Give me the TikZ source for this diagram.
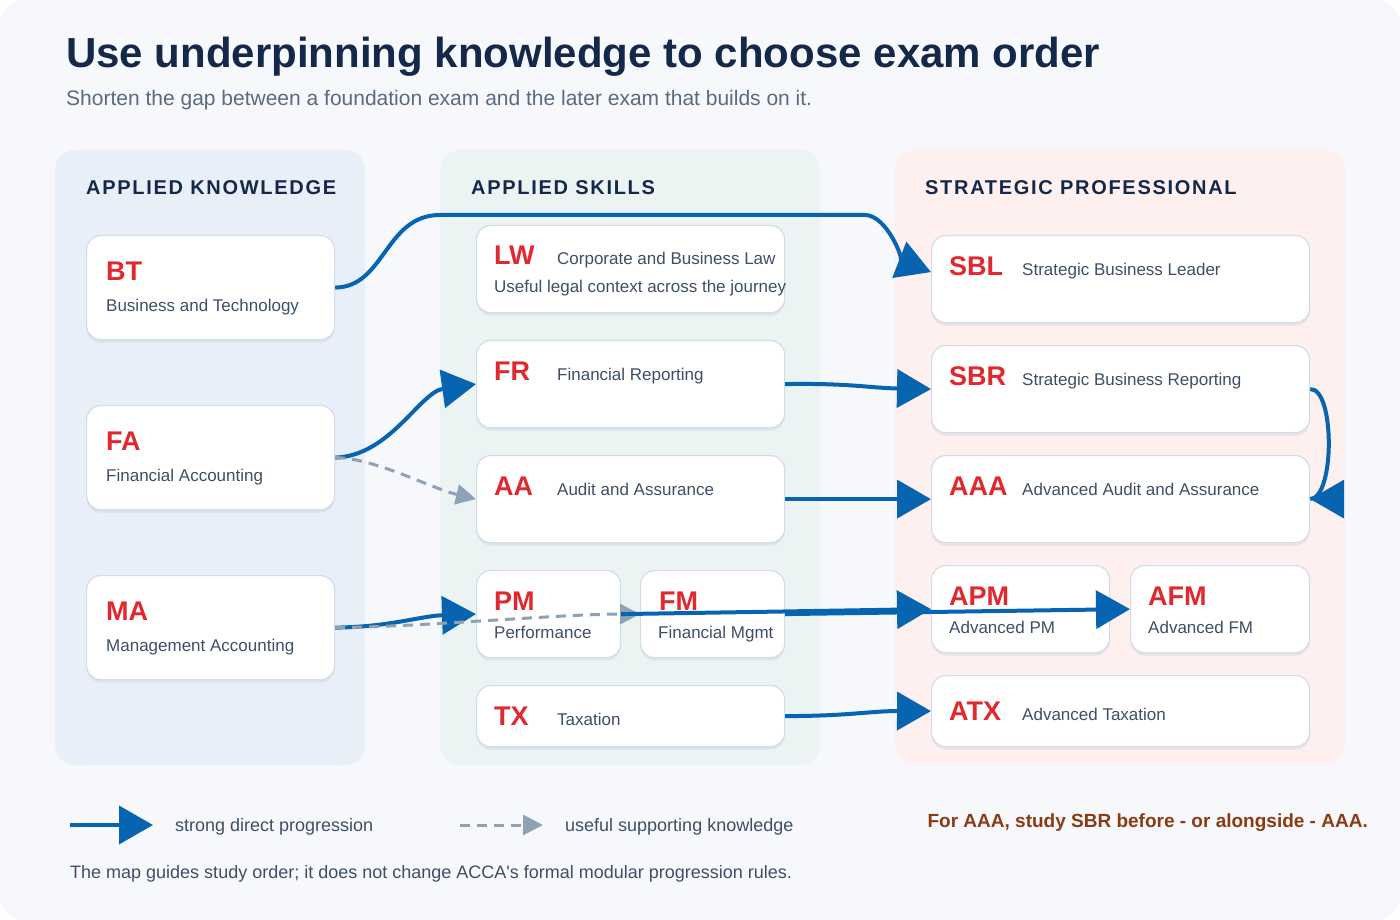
\documentclass[tikz,border=0pt]{standalone}
\usepackage{fontspec}
\setmainfont{Liberation Sans}
\newfontfamily\hdrfont{Liberation Sans}[LetterSpace=8.5]
\usetikzlibrary{arrows.meta,shadows,calc}
\definecolor{canvasbg}{HTML}{F6F8FC}
\definecolor{akfill}{HTML}{E9EFF8}
\definecolor{asfill}{HTML}{EBF4F3}
\definecolor{spfill}{HTML}{FDF0EF}
\definecolor{cardline}{HTML}{D3DDE9}
\definecolor{shadowc}{HTML}{5A7090}
\definecolor{flowblue}{HTML}{0664B1}
\definecolor{supgray}{HTML}{8FA1B5}
\definecolor{codered}{HTML}{E0282E}
\definecolor{titlec}{HTML}{14284A}
\definecolor{subc}{HTML}{5A6B80}
\definecolor{desctext}{HTML}{3E4F66}
\definecolor{notebrown}{HTML}{8B3A13}
\begin{document}
\begin{tikzpicture}[x=1pt,y=-1pt,
  card/.style={draw=cardline, line width=1.2pt, fill=white, rounded corners=14pt, inner sep=0pt, anchor=north west,
    drop shadow={shadow xshift=0pt, shadow yshift=-3pt, opacity=0.10, fill=shadowc}},
  code/.style={anchor=base west, inner sep=0pt, text=codered, font=\fontsize{27}{30}\selectfont\bfseries},
  desc/.style={anchor=base west, inner sep=0pt, text=desctext, font=\fontsize{17}{20}\selectfont},
  legtext/.style={anchor=base west, inner sep=0pt, text=desctext, font=\fontsize{18}{21}\selectfont},
  hdr/.style={anchor=base west, inner sep=0pt, text=titlec, font=\hdrfont\fontsize{20}{24}\selectfont\bfseries},
  flowline/.style={draw=flowblue, line width=4pt},
  strong/.style={flowline, -{Triangle[length=34pt,width=38pt]}},
  support/.style={draw=supgray, line width=3pt, dash pattern=on 10pt off 7pt, -{Triangle[length=20pt,width=20pt]}},
  panel/.style={rounded corners=20pt, draw=none}
]
\useasboundingbox (0,0) rectangle (1400,920);
\fill[white] (0,0) rectangle (1400,920);
\fill[canvasbg, rounded corners=24pt] (0,0) rectangle (1400,920);

% title
\node[anchor=base west, inner sep=0pt, text=titlec, font=\fontsize{42}{47}\selectfont\bfseries] (title) at (66,68) {Use underpinning knowledge to choose exam order};
\node[anchor=base west, inner sep=0pt, text=subc, font=\fontsize{21}{25}\selectfont] (subtitle) at (66,106) {Shorten the gap between a foundation exam and the later exam that builds on it.};

% panels
\fill[akfill, panel] (55,150) rectangle (365,765);
\fill[asfill, panel] (440,150) rectangle (820,765);
\fill[spfill, panel] (895,150) rectangle (1345,765);
\node[hdr] (hAK) at (86,195) {APPLIED KNOWLEDGE};
\node[hdr] (hAS) at (471,195) {APPLIED SKILLS};
\node[hdr] (hSP) at (925,195) {STRATEGIC PROFESSIONAL};

% cards
\node[card, minimum width=248pt, minimum height=104pt] (BT) at (86,235) {};
\node[card, minimum width=248pt, minimum height=104pt] (FA) at (86,405) {};
\node[card, minimum width=248pt, minimum height=104pt] (MA) at (86,575) {};
\node[card, minimum width=308pt, minimum height=87pt] (LW) at (476,225) {};
\node[card, minimum width=308pt, minimum height=87pt] (FR) at (476,340) {};
\node[card, minimum width=308pt, minimum height=87pt] (AA) at (476,455) {};
\node[card, minimum width=144pt, minimum height=87pt] (PM) at (476,570) {};
\node[card, minimum width=144pt, minimum height=87pt] (FM) at (640,570) {};
\node[card, minimum width=308pt, minimum height=61pt] (TX) at (476,685) {};
\node[card, minimum width=378pt, minimum height=87pt] (SBL) at (931,235) {};
\node[card, minimum width=378pt, minimum height=87pt] (SBR) at (931,345) {};
\node[card, minimum width=378pt, minimum height=87pt] (AAA) at (931,455) {};
\node[card, minimum width=178pt, minimum height=87pt] (APM) at (931,565) {};
\node[card, minimum width=179pt, minimum height=87pt] (AFM) at (1130,565) {};
\node[card, minimum width=378pt, minimum height=71pt] (ATX) at (931,675) {};

% connectors
\draw[strong] (BT.east) .. controls (385,287) and (385,215) .. (440,215) -- (865,215) .. controls (887,215) and (905,262) .. ($(SBL.west)+(0,-7)$);
\draw[strong] (FA.east) .. controls (390,456) and (420,392) .. (FR.west);
\draw[support] (FA.east) .. controls (375,458) and (430,488) .. (AA.west);
\draw[strong] (MA.east) .. controls (390,627) and (420,616) .. (PM.west);
\draw[support] (MA.east) .. controls (420,627) and (560,614) .. (FM.west);
\draw[strong] (FR.east) .. controls (850,383) and (870,388) .. (SBR.west);
\draw[strong] (AA.east) -- (AAA.west);
\draw[strong] (PM.east) -- (APM.west);
\draw[strong] (FM.east) -- (AFM.west);
\draw[strong] (TX.east) .. controls (850,716) and (870,711) .. (ATX.west);
\coordinate (aaaIn) at ($(AAA.east)+(34,0)$);
\draw[flowline] (SBR.east) .. controls (1335,388) and (1335,498) .. (AAA.east);
\draw[strong] (aaaIn) -- (AAA.east);

% card texts
\node[code] (BTc) at (106,280) {BT};
\node[desc] (BTd) at (106,311) {Business and Technology};
\node[code] (FAc) at (106,450) {FA};
\node[desc] (FAd) at (106,481) {Financial Accounting};
\node[code] (MAc) at (106,620) {MA};
\node[desc] (MAd) at (106,651) {Management Accounting};
\node[code] (LWc) at (494,264) {LW};
\node[desc] (LWd) at (557,264) {Corporate and Business Law};
\node[desc] (LWe) at (494,292) {Useful legal context across the journey};
\node[code] (FRc) at (494,380) {FR};
\node[desc] (FRd) at (557,380) {Financial Reporting};
\node[code] (AAc) at (494,495) {AA};
\node[desc] (AAd) at (557,495) {Audit and Assurance};
\node[code] (PMc) at (494,610) {PM};
\node[desc] (PMd) at (494,638) {Performance};
\node[code] (FMc) at (659,610) {FM};
\node[desc] (FMd) at (658,638) {Financial Mgmt};
\node[code] (TXc) at (494,725) {TX};
\node[desc] (TXd) at (557,725) {Taxation};
\node[code] (SBLc) at (949,275) {SBL};
\node[desc] (SBLd) at (1022,275) {Strategic Business Leader};
\node[code] (SBRc) at (949,385) {SBR};
\node[desc] (SBRd) at (1022,385) {Strategic Business Reporting};
\node[code] (AAAc) at (949,495) {AAA};
\node[desc] (AAAd) at (1022,495) {Advanced Audit and Assurance};
\node[code] (APMc) at (949,605) {APM};
\node[desc] (APMd) at (949,633) {Advanced PM};
\node[code] (AFMc) at (1148,605) {AFM};
\node[desc] (AFMd) at (1148,633) {Advanced FM};
\node[code] (ATXc) at (949,720) {ATX};
\node[desc] (ATXd) at (1022,720) {Advanced Taxation};

% legend
\coordinate (l1a) at (70,825);
\coordinate (l1b) at (153,825);
\draw[strong] (l1a) -- (l1b);
\node[legtext] (l1t) at (175,831) {strong direct progression};
\coordinate (l2a) at (460,825);
\coordinate (l2b) at (543,825);
\draw[support] (l2a) -- (l2b);
\node[legtext] (l2t) at (565,831) {useful supporting knowledge};
\node[anchor=base east, inner sep=0pt, text=notebrown, font=\fontsize{19}{23}\selectfont\bfseries] (note) at (1368,827) {For AAA, study SBR before - or alongside - AAA.};
\node[legtext] (foot) at (70,878) {The map guides study order; it does not change ACCA\textquotesingle s formal modular progression rules.};
\end{tikzpicture}
\end{document}
